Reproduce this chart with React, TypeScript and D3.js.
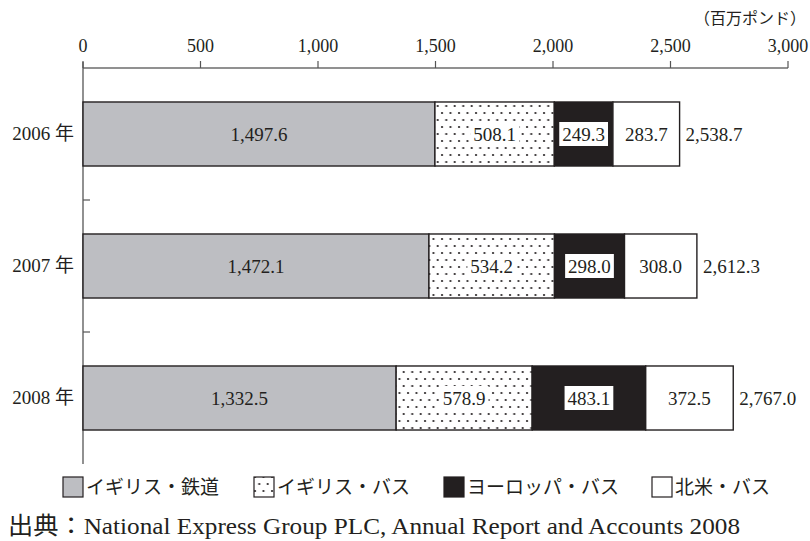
import React from "react";
import * as d3 from "d3";

const years = ["2006 年", "2007 年", "2008 年"];
const seriesNames = ["イギリス・鉄道", "イギリス・バス", "ヨーロッパ・バス", "北米・バス"];
const railUK = [1497.6, 1472.1, 1332.5];
const busUK = [508.1, 534.2, 578.9];
const busEurope = [249.3, 298.0, 483.1];
const busNorthAmerica = [283.7, 308.0, 372.5];
const totals = [2538.7, 2612.3, 2767.0];
const xTicks = [0, 500, 1000, 1500, 2000, 2500, 3000];
const unitLabel = "（百万ポンド）";
const sourceText = "出典：National Express Group PLC, Annual Report and Accounts 2008";

const W = 810;
const H = 541;
const X0 = 83;
const X1 = 788;
const Y0 = 68;
const Y1 = 464;
const INK = "#231f20";
const SERIF = "'Liberation Serif', 'Times New Roman', 'Noto Sans CJK JP', serif";
const CJK = "'Noto Sans CJK JP', sans-serif";

const fills = ["#bdbec2", "url(#dots)", "#231f20", "#ffffff"];
const legendX = [63, 254, 444, 652];

function textWidth(s: string, fs: number) {
  let w = 0;
  for (const c of s) w += c === "," || c === "." ? 0.25 : 0.5;
  return w * fs;
}

export default function App() {
  const x = d3.scaleLinear().domain([0, 3000]).range([X0, X1]);
  const y = d3.scaleBand<string>().domain(years).range([Y0, Y1]).paddingInner(0.515).paddingOuter(0.2575);
  const bw = y.bandwidth();
  const seriesData = [railUK, busUK, busEurope, busNorthAmerica];
  const rows = years.map((yr, i) => {
    const obj: any = { year: yr };
    seriesNames.forEach((n, k) => (obj[n] = seriesData[k][i]));
    return obj;
  });
  const stacked = d3.stack<any>().keys(seriesNames)(rows);
  const centers = years.map((yr) => (y(yr) as number) + bw / 2);
  const sepTicks = centers.slice(0, -1).map((c, i) => (c + centers[i + 1]) / 2);
  const fmt = d3.format(",.1f");
  const labelFs = 19;

  return (
    <svg width={W} height={H} style={{ position: "absolute", left: 0, top: 0, background: "#fff" }}>
      <defs>
        <pattern id="dots" width="8.5" height="14" patternUnits="userSpaceOnUse" x={X0} y={Y0}>
          <rect width="8.5" height="14" fill="#fff" />
          <circle cx="2" cy="3" r="1.1" fill={INK} />
          <circle cx="6.25" cy="10" r="1.1" fill={INK} />
        </pattern>
      </defs>
      <rect width={W} height={H} fill="#fff" />

      {/* unit label */}
      <text x={806} y={24} textAnchor="end" fontFamily={CJK} fontSize={16} fill={INK}>
        {unitLabel}
      </text>

      {/* top axis */}
      <line x1={X0} x2={X1} y1={Y0} y2={Y0} stroke="#6d6d6d" strokeWidth={1.3} />
      {xTicks.map((t) => (
        <g key={t}>
          <line x1={x(t)} x2={x(t)} y1={Y0} y2={Y0 - 7} stroke="#555" strokeWidth={1.2} />
          <text x={x(t)} y={52} textAnchor="middle" fontFamily={SERIF} fontSize={18} fill={INK}>
            {d3.format(",")(t)}
          </text>
        </g>
      ))}

      {/* left axis */}
      <line x1={X0} x2={X0} y1={Y0 - 6} y2={Y1} stroke="#555" strokeWidth={1.3} />
      {sepTicks.map((t, i) => (
        <line key={i} x1={X0} x2={X0 + 7} y1={t} y2={t} stroke="#555" strokeWidth={1.2} />
      ))}
      {years.map((yr, i) => (
        <text key={yr} x={74} y={centers[i] + 6} textAnchor="end" fontFamily={SERIF} fontSize={19} fill={INK}>
          {yr}
        </text>
      ))}

      {/* bars */}
      {stacked.map((s, k) => (
        <g key={s.key}>
          {s.map((d, i) => (
            <rect
              key={i}
              x={x(d[0])}
              y={y(years[i])}
              width={x(d[1]) - x(d[0])}
              height={bw}
              fill={fills[k]}
              stroke={INK}
              strokeWidth={1.4}
            />
          ))}
        </g>
      ))}

      {/* value labels */}
      {stacked.map((s, k) => (
        <g key={"l" + s.key}>
          {s.map((d, i) => {
            const cx = (x(d[0]) + x(d[1])) / 2;
            const label = fmt(d[1] - d[0]);
            const tw = textWidth(label, labelFs);
            const boxed = k === 1 || k === 2;
            return (
              <g key={i}>
                {boxed && (
                  <rect x={cx - tw / 2 - 3} y={centers[i] - 12} width={tw + 6} height={24} fill="#fff" />
                )}
                <text x={cx} y={centers[i] + 6.5} textAnchor="middle" fontFamily={SERIF} fontSize={labelFs} fill={INK}>
                  {label}
                </text>
              </g>
            );
          })}
        </g>
      ))}

      {/* totals */}
      {totals.map((t, i) => (
        <text key={i} x={x(t) + 6} y={centers[i] + 6.5} fontFamily={SERIF} fontSize={labelFs} fill={INK}>
          {fmt(t)}
        </text>
      ))}

      {/* legend */}
      {seriesNames.map((n, k) => (
        <g key={n}>
          <rect x={legendX[k]} y={477} width={20} height={20} fill={fills[k]} stroke={INK} strokeWidth={1.2} />
          <text x={legendX[k] + 23} y={494} fontFamily={CJK} fontSize={19} fill={INK}>
            {n}
          </text>
        </g>
      ))}

      {/* source */}
      <text
        x={8}
        y={534}
        fontFamily={SERIF}
        fontSize={24}
        fill={INK}
        textLength={732}
        lengthAdjust="spacingAndGlyphs"
      >
        {sourceText}
      </text>
    </svg>
  );
}
